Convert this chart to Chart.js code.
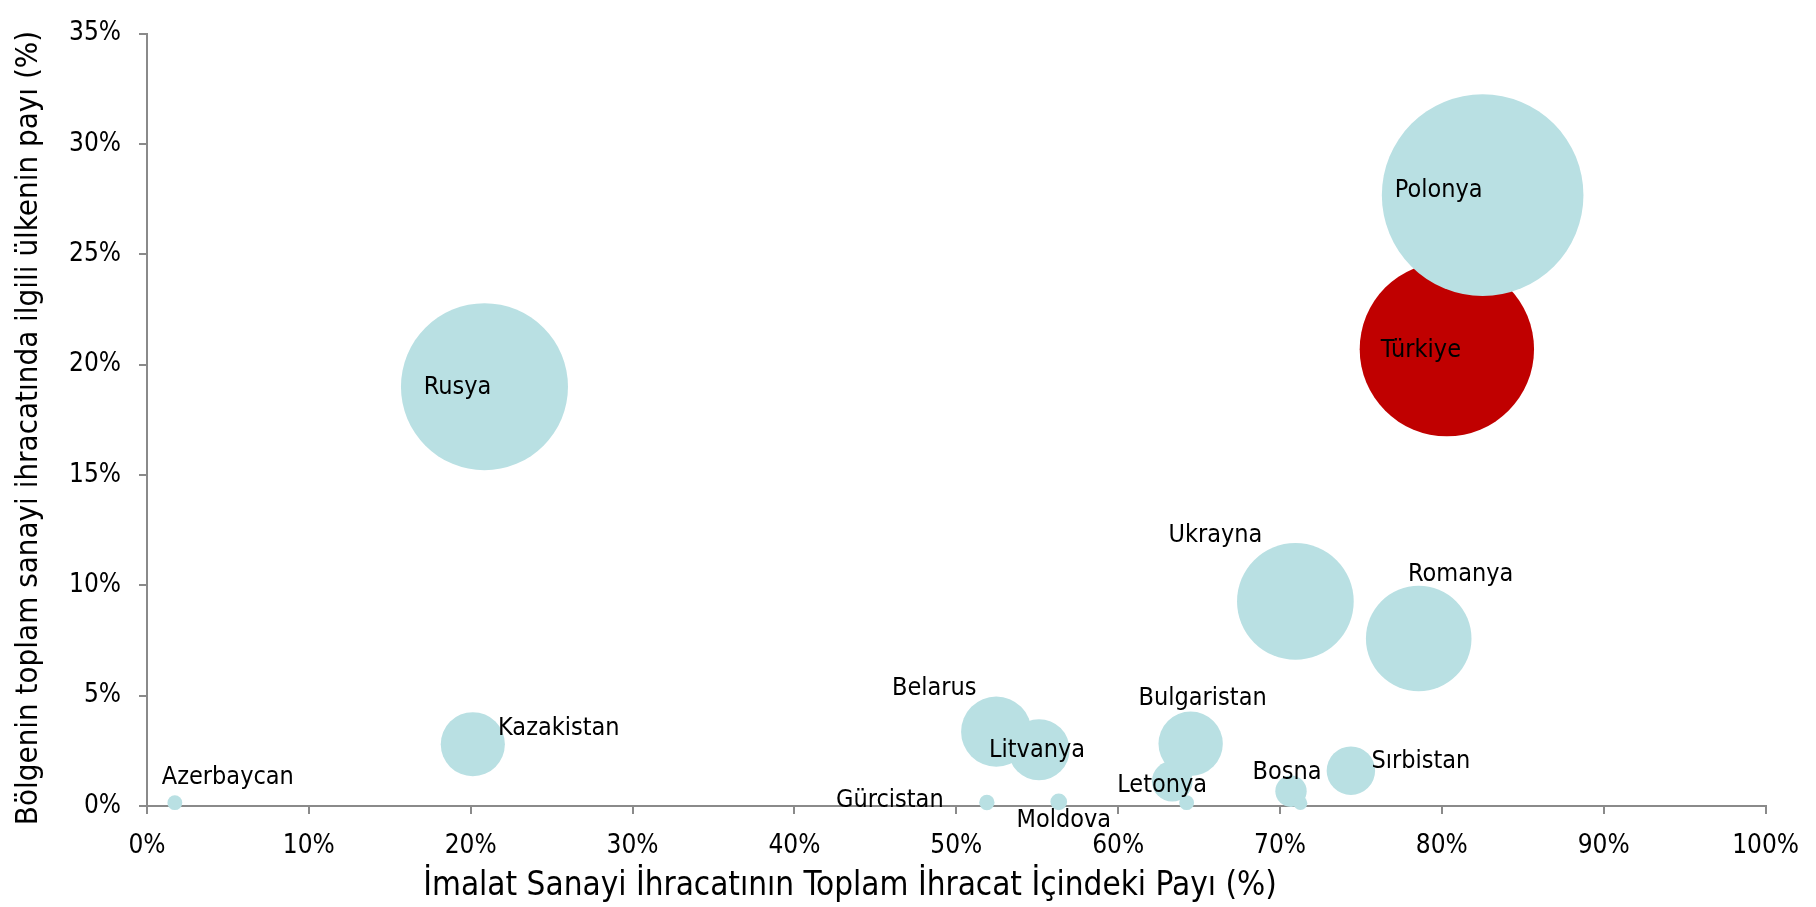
<!DOCTYPE html>
<html>
<head>
<meta charset="utf-8">
<script src="https://cdn.jsdelivr.net/npm/chart.js@4.4.1/dist/chart.umd.min.js"></script>
<style>
  html, body { margin: 0; padding: 0; background: #fff; }
  canvas { display: block; }
</style>
</head>
<body>
<canvas id="bubbles" width="1816" height="907"></canvas>
<script>
// countries (two small bubbles carry no label in the source)
var countries = ['Azerbaycan', 'Kazakistan', 'Rusya', 'Gürcistan', 'Belarus', 'Litvanya', 'Moldova',
  'Letonya', '', 'Bulgaristan', 'Bosna', '', 'Ukrayna', 'Sırbistan', 'Romanya', 'Türkiye', 'Polonya'];
// share of manufacturing in total exports (%)
var manufShare = [1.72, 20.13, 20.85, 51.89, 52.47, 55.11, 56.33,
  63.34, 64.23, 64.48, 70.68, 71.26, 70.95, 74.38, 78.57, 80.31, 82.52];
// country's share in the region's manufacturing exports (%), also the bubble size
var regionShare = [0.15, 2.80, 19.0, 0.16, 3.37, 2.55, 0.19,
  1.12, 0.15, 2.82, 0.67, 0.13, 9.27, 1.60, 7.59, 20.7, 27.68];
var xTicks = [0, 10, 20, 30, 40, 50, 60, 70, 80, 90, 100];
var yTicks = [0, 5, 10, 15, 20, 25, 30, 35];

// label placement relative to bubble centre, px
var labelOffsets = [[53, -25], [86, -16], [-27, 1], [-97, -2], [-62, -43], [-2, 1], [5, 19],
  [-10, 4], [0, 0], [12, -45], [-4, -19], [0, 0], [-80, -66], [70, -9], [42, -64], [-26, 1], [-44, -5]];

var FONT = '"DejaVu Sans Condensed", "DejaVu Sans", sans-serif';
var AXIS_GREY = '#8a8a8a';
var maxRadius = 100.8;
var maxSize = Math.max.apply(null, regionShare);

var points = manufShare.map(function (x, i) {
  return { x: x, y: regionShare[i], r: maxRadius * Math.sqrt(regionShare[i] / maxSize) };
});
var colors = countries.map(function (c) {
  return c === 'Türkiye' ? '#C00000' : '#B9E0E3';
});

var bubbleLabels = {
  id: 'bubbleLabels',
  afterDatasetsDraw: function (chart) {
    var ctx = chart.ctx;
    var meta = chart.getDatasetMeta(0);
    ctx.save();
    ctx.font = '25px ' + FONT;
    ctx.fillStyle = '#000';
    ctx.textAlign = 'center';
    ctx.textBaseline = 'middle';
    meta.data.forEach(function (el, i) {
      if (!countries[i]) return;
      ctx.fillText(countries[i], el.x + labelOffsets[i][0], el.y + labelOffsets[i][1]);
    });
    ctx.restore();
  }
};

var axisTitles = {
  id: 'axisTitles',
  afterDraw: function (chart) {
    var ctx = chart.ctx;
    ctx.save();
    ctx.fillStyle = '#000';
    ctx.textAlign = 'center';
    ctx.textBaseline = 'middle';
    ctx.font = '33px ' + FONT;
    ctx.fillText('İmalat Sanayi İhracatının Toplam İhracat İçindeki Payı (%)', 850, 886);
    ctx.font = '31px ' + FONT;
    ctx.translate(29, 428);
    ctx.rotate(-Math.PI / 2);
    ctx.fillText('Bölgenin toplam sanayi ihracatında ilgili ülkenin payı (%)', 0, 0);
    ctx.restore();
  }
};

var ctxBubbles = document.getElementById('bubbles');
new Chart(ctxBubbles, {
  type: 'bubble',
  data: {
    labels: countries,
    datasets: [{
      data: points,
      backgroundColor: colors,
      borderWidth: 0,
      hoverBorderWidth: 0,
      clip: false
    }]
  },
  options: {
    responsive: false,
    animation: false,
    devicePixelRatio: 1,
    layout: { autoPadding: false, padding: { top: 18, right: 49, bottom: 0, left: 0 } },
    plugins: {
      legend: { display: false },
      tooltip: { enabled: false }
    },
    scales: {
      x: {
        type: 'linear',
        min: 0,
        max: 100,
        afterBuildTicks: function (scale) {
          scale.ticks = xTicks.map(function (v) { return { value: v }; });
        },
        afterFit: function (scale) { scale.height = 101; },
        grid: { drawOnChartArea: false, drawTicks: true, tickLength: 8, color: AXIS_GREY, lineWidth: 2 },
        border: { display: true, color: AXIS_GREY, width: 2 },
        ticks: {
          padding: 17,
          color: '#000',
          font: { family: FONT, size: 26 },
          callback: function (v) { return v + '%'; }
        }
      },
      y: {
        type: 'linear',
        min: 0,
        max: 35,
        afterBuildTicks: function (scale) {
          scale.ticks = yTicks.map(function (v) { return { value: v }; });
        },
        afterFit: function (scale) { scale.width = 147; },
        grid: { drawOnChartArea: false, drawTicks: true, tickLength: 8, color: AXIS_GREY, lineWidth: 2 },
        border: { display: true, color: AXIS_GREY, width: 2 },
        ticks: {
          padding: 18,
          color: '#000',
          font: { family: FONT, size: 26 },
          callback: function (v) { return v + '%'; }
        }
      }
    }
  },
  plugins: [bubbleLabels, axisTitles]
});
</script>
</body>
</html>
